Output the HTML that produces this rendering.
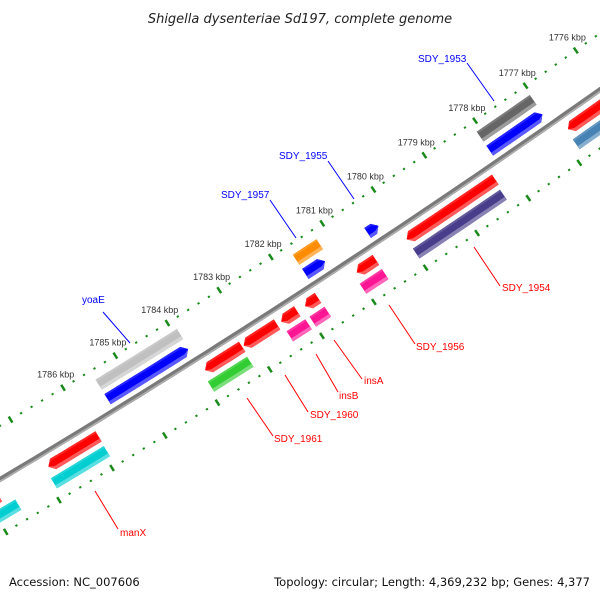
<!DOCTYPE html>
<html><head><meta charset="utf-8"><style>
html,body{margin:0;padding:0;background:#fff;}
svg{display:block;font-family:"Liberation Sans","DejaVu Sans",sans-serif;}
</style></head><body>
<svg id="map" width="600" height="600" viewBox="0 0 600 600" xmlns="http://www.w3.org/2000/svg">
<rect x="0" y="0" width="600" height="600" fill="#fff"/>
<text x="300" y="23" text-anchor="middle" font-size="13" font-style="italic" fill="#222" style="font-family:'DejaVu Sans',sans-serif">Shigella dysenteriae Sd197, complete genome</text>
<g id="rulers"></g>
<g id="backbone"></g>
<g id="features"></g>
<g font-size="10">
 <g><line x1="103" y1="312" x2="130" y2="343" stroke="#0000ff" stroke-width="1"/><text x="82" y="303" fill="#0000ff">yoaE</text></g>
 <g><line x1="270" y1="200" x2="296" y2="238" stroke="#0000ff" stroke-width="1"/><text x="221" y="198" fill="#0000ff">SDY_1957</text></g>
 <g><line x1="328" y1="161" x2="354" y2="199" stroke="#0000ff" stroke-width="1"/><text x="279" y="159" fill="#0000ff">SDY_1955</text></g>
 <g><line x1="467" y1="63" x2="494" y2="101" stroke="#0000ff" stroke-width="1"/><text x="418" y="62" fill="#0000ff">SDY_1953</text></g>
 <g><line x1="474" y1="247" x2="500" y2="286" stroke="#ff0000" stroke-width="1"/><text x="502" y="291" fill="#ff0000">SDY_1954</text></g>
 <g><line x1="389" y1="305" x2="415" y2="344" stroke="#ff0000" stroke-width="1"/><text x="416" y="350" fill="#ff0000">SDY_1956</text></g>
 <g><line x1="334" y1="340" x2="362" y2="379" stroke="#ff0000" stroke-width="1"/><text x="364" y="384" fill="#ff0000">insA</text></g>
 <g><line x1="316" y1="354" x2="338" y2="392" stroke="#ff0000" stroke-width="1"/><text x="339" y="399" fill="#ff0000">insB</text></g>
 <g><line x1="285" y1="375" x2="308" y2="412" stroke="#ff0000" stroke-width="1"/><text x="310" y="418" fill="#ff0000">SDY_1960</text></g>
 <g><line x1="247" y1="398" x2="273" y2="436" stroke="#ff0000" stroke-width="1"/><text x="274" y="442" fill="#ff0000">SDY_1961</text></g>
 <g><line x1="95" y1="491" x2="118" y2="529" stroke="#ff0000" stroke-width="1"/><text x="120" y="536" fill="#ff0000">manX</text></g>
</g>
<text x="9" y="586" font-size="11.5" fill="#111" style="font-family:'DejaVu Sans',sans-serif">Accession: NC_007606</text>
<text x="590" y="586" font-size="11.5" fill="#111" text-anchor="end" style="font-family:'DejaVu Sans',sans-serif">Topology: circular; Length: 4,369,232 bp; Genes: 4,377</text>
</svg>
<script>
// data
const tickLabelsKbp = [1776,1777,1778,1779,1780,1781,1782,1783,1784,1785,1786];
const featStart = [1778.08,1781.68,1785.48, 1785.48,1781.68,1780.47,1778.08, 1776.84,1776.87, 1780.00,1780.00,1780.97,1781.03,1781.97,1782.00,1782.43,1782.44,1783.15,1783.89,1783.95,1786.87,1786.93,1788.6,1788.6];
const featEnd   = [1777.03,1781.22,1783.92, 1783.94,1781.30,1780.26,1777.04, 1775.3,1775.3, 1778.27,1778.30,1780.60,1780.60,1781.72,1781.71,1782.12,1782.08,1782.51,1783.18,1783.20,1785.92,1785.93,1787.80,1787.60];
const featRing  = [0,0,0, 1,1,1,1, 2,3, 2,3,2,3,2,3,2,3,2,2,3,2,3,2,3];
const featColor = ["#666666","#ff8c00","#c0c0c0","#0000ff","#0000ff","#0000ff","#0000ff","#ff0000","#4682b4","#ff0000","#483d8b","#ff0000","#ff1493","#ff0000","#ff1493","#ff0000","#ff1493","#ff0000","#ff0000","#32cd32","#ff0000","#00ced1","#ff0000","#00ced1"];
const featNames = ["SDY_1953-outer","SDY_1957-orange","yoaE-outer","yoaE","SDY_1957","SDY_1955","SDY_1953","edge-red","edge-steelblue","SDY_1954","SDY_1954-outer","SDY_1956","SDY_1956-outer","insA","insA-outer","insB","insB-outer","SDY_1960","SDY_1961","SDY_1961-outer","manX","manX-outer","left-red","left-cyan"];

// geometry
const CX=-4686, CY=-7390, R=9159;
const T0=1.00915, DT=0.006736;
const ringOff=[-30,-13,14,31];
const NS="http://www.w3.org/2000/svg";
function theta(k){return T0+(k-1784)*DT;}
function P(k,r){const t=theta(k);return [CX+r*Math.cos(t),CY+r*Math.sin(t)];}
function mk(tag,attrs,parent){const e=document.createElementNS(NS,tag);for(const a in attrs)e.setAttribute(a,attrs[a]);parent.appendChild(e);return e;}
function pts(a){return a.map(p=>p[0].toFixed(1)+","+p[1].toFixed(1)).join(" ");}
function lighten(hex,f){const n=parseInt(hex.slice(1),16);let r=n>>16,g=(n>>8)&255,b=n&255;r=Math.round(r+(255-r)*f);g=Math.round(g+(255-g)*f);b=Math.round(b+(255-b)*f);return "rgb("+r+","+g+","+b+")";}

// backbone
const bb=document.getElementById('backbone');
const bpts=[];for(let k=1775;k<=1789.5;k+=0.25)bpts.push(P(k,R));
const bl=mk('polyline',{points:pts(bpts),fill:'none',stroke:'#7a7a7a','stroke-width':5},bb);


const bl2=mk('polyline',{points:pts(bpts.map((p,i)=>P(1775+i*0.25,R+1.5))),fill:'none',stroke:'#b0b0b0','stroke-width':1.5},bb);



// rulers
const rg=document.getElementById('rulers');
[R-46,R+48].forEach((rr,ri)=>{
  for(let m=1774*5;m<=1790*5;m++){
    const k=m/5;
    if(m%5===0){
      const a=P(k,rr-3.5),b=P(k,rr+3.5);
      const t=mk('line',{x1:a[0],y1:a[1],x2:b[0],y2:b[1],stroke:'#1a8a1a','stroke-width':2.5},rg);
      
      
    } else {
      const a=P(k,rr-1),b=P(k,rr+1);
      const t=mk('line',{x1:a[0],y1:a[1],x2:b[0],y2:b[1],stroke:'#1a8a1a','stroke-width':2.2},rg);
      
      
    }
  }
});
tickLabelsKbp.forEach(k=>{
  const p=P(k,R-64);
  const t=mk('text',{x:(p[0]+2).toFixed(1),y:(p[1]+5).toFixed(1),'text-anchor':'middle','font-size':9,fill:'#333'},rg);
  t.textContent=k+" kbp";
  
  
});

// features
const fg=document.getElementById('features');
const H=12, TIP=0.09;
featStart.forEach((s,i)=>{
  const e=featEnd[i], ring=featRing[i], col=featColor[i];
  const rc=R+ringOff[ring], ri=rc-H/2, ro=rc+H/2;
  const lo=Math.min(s,e), hi=Math.max(s,e);
  let arrow=0;
  if(ring===1)arrow=1; if(ring===2)arrow=-1;
  const g=mk('g',{},fg);
  
  
  const tip=Math.min(TIP,(hi-lo)*0.45);
  function shape(r1,r2){
    let a=lo,b=hi;
    const L=[];
    if(arrow===1){a=lo+tip;}
    if(arrow===-1){b=hi-tip;}
    const steps=Math.max(2,Math.ceil((b-a)/0.25));
    for(let j=0;j<=steps;j++)L.push(P(a+(b-a)*j/steps,r1));
    if(arrow===-1)L.push(P(hi,rc));
    for(let j=steps;j>=0;j--)L.push(P(a+(b-a)*j/steps,r2));
    if(arrow===1)L.push(P(lo,rc));
    return L;
  }
  mk('polygon',{points:pts(shape(ri,ro)),fill:col},g);
  mk('polygon',{points:pts(shape(ro-3.5,ro)),fill:lighten(col,0.35)},g);
  mk('polygon',{points:pts(shape(ri,ri+2)),fill:lighten(col,0.15)},g);
});
</script>
</body></html>
